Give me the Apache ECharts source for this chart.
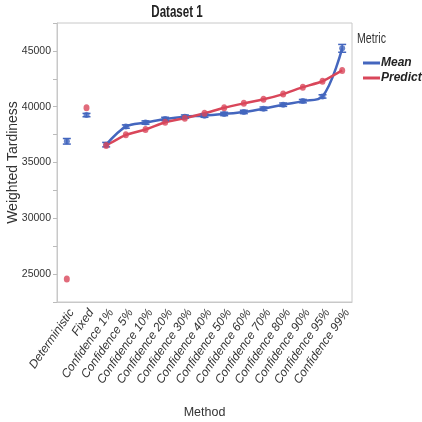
<!DOCTYPE html>
<html><head><meta charset="utf-8">
<script src="https://cdn.jsdelivr.net/npm/echarts@6/dist/echarts.min.js"></script>
<style>html,body{margin:0;padding:0;background:#fff}#c{width:422px;height:422px}</style>
</head><body><div id="c"></div>
<script>
const categories = ['Deterministic','Fixed','Confidence 1%','Confidence 5%','Confidence 10%','Confidence 20%','Confidence 30%','Confidence 40%','Confidence 50%','Confidence 60%','Confidence 70%','Confidence 80%','Confidence 90%','Confidence 95%','Confidence 99%'];
const meanValues = [36900, 39250, 36600, 38220, 38580, 38900, 39110, 39200, 39350, 39530, 39820, 40180, 40500, 40920, 45230];
const meanErr = [250, 150, 200, 150, 150, 150, 150, 150, 150, 150, 150, 150, 150, 150, 350];
const predValues = [24550, 39910, 36530, 37480, 37960, 38610, 38970, 39410, 39910, 40300, 40660, 41130, 41750, 42280, 43250];
const yTickLabels = [25000, 30000, 35000, 40000, 45000];
const firstLinked = 2; // lines connect Confidence levels only

const BLUE = '#4466BE', RED = '#D9465A';
const FONT = '"Liberation Sans",Arial,sans-serif';
const lineData = arr => arr.map((v,i)=> i < firstLinked ? '-' : v);

const chart = echarts.init(document.getElementById('c'), null, {renderer:'canvas'});
chart.setOption({
  animation:false,
  graphic:[
    {type:'text', x:177, y:12, scaleX:0.68, style:{text:'Dataset 1', font:'bold 17px '+FONT, fill:'#222', textAlign:'center', textVerticalAlign:'middle'}},
    {type:'text', x:357, y:39, scaleX:0.76, style:{text:'Metric', font:'14px '+FONT, fill:'#333', textAlign:'left', textVerticalAlign:'middle'}}
  ],
  legend:{orient:'vertical', left:358, top:52, itemGap:3, itemWidth:17, itemHeight:3, icon:'rect',
    data:['Mean','Prediction'],
    textStyle:{fontFamily:FONT, fontSize:12, fontStyle:'italic', fontWeight:'bold', color:'#222', padding:[0,0,0,-4]}},
  grid:{left:57, right:70, top:23, bottom:120, show:true, borderColor:'#c8c8c8', borderWidth:1,
    containLabel:false, outerBoundsMode:'none'},
  xAxis:{type:'category', data:categories, boundaryGap:true,
    axisLine:{lineStyle:{color:'#c8c8c8'}}, axisTick:{show:false},
    axisLabel:{rotate:55, interval:0, margin:5, verticalAlign:'top', fontFamily:FONT, fontSize:12, fontStyle:'italic', color:'#333'},
    name:'Method', nameLocation:'middle', nameGap:104, nameMoveOverlap:false,
    nameTextStyle:{fontFamily:FONT, fontSize:12.5, color:'#333'}},
  yAxis:{type:'value', min:22500, max:47500, interval:2500,
    axisLine:{show:true, lineStyle:{color:'#c8c8c8'}},
    axisTick:{show:true, length:4, lineStyle:{color:'#bbb'}},
    splitLine:{show:false},
    axisLabel:{margin:6, fontFamily:FONT, fontSize:10.5, color:'#333',
      formatter: v => yTickLabels.indexOf(v) >= 0 ? String(v) : ''},
    name:'Weighted Tardiness', nameLocation:'middle', nameGap:37, nameMoveOverlap:false,
    nameTextStyle:{fontFamily:FONT, fontSize:14, color:'#333'}},
  series:[
    {name:'Mean', type:'line', data:lineData(meanValues), smooth:0.35, showSymbol:false,
      lineStyle:{color:BLUE, width:2.5}, itemStyle:{color:BLUE}, z:3},
    {name:'Prediction', type:'line', data:lineData(predValues), smooth:0.15, showSymbol:false,
      lineStyle:{color:RED, width:2.5}, itemStyle:{color:RED}, z:3},
    {name:'Mean', type:'custom', z:4,
      data: meanValues.map((v,i)=>[i, v-meanErr[i], v+meanErr[i]]),
      renderItem:(params, api)=>{
        const x = api.value(0);
        const lo = api.coord([x, api.value(1)]);
        const hi = api.coord([x, api.value(2)]);
        const w = 4;
        return {type:'group', children:[
          {type:'line', shape:{x1:lo[0],y1:lo[1],x2:hi[0],y2:hi[1]}, style:{stroke:BLUE, lineWidth:1.5}},
          {type:'line', shape:{x1:lo[0]-w,y1:lo[1],x2:lo[0]+w,y2:lo[1]}, style:{stroke:BLUE, lineWidth:1.5}},
          {type:'line', shape:{x1:hi[0]-w,y1:hi[1],x2:hi[0]+w,y2:hi[1]}, style:{stroke:BLUE, lineWidth:1.5}}
        ]};
      }},
    {name:'Mean', type:'scatter', data:meanValues, symbol:'circle', symbolSize:6,
      itemStyle:{color:BLUE}, z:5},
    {name:'Prediction', type:'scatter', data:predValues, symbol:'circle', symbolSize:[6,7],
      itemStyle:{color:RED}, z:5}
  ]
});
</script></body></html>
